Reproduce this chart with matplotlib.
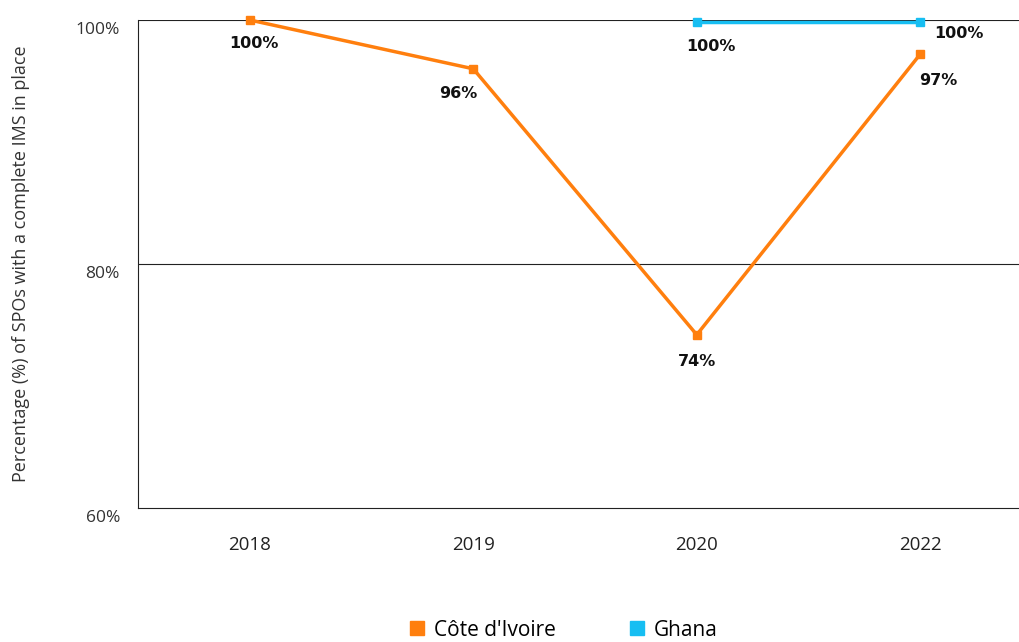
import matplotlib
matplotlib.use("Agg")
import matplotlib.pyplot as plt
import matplotlib.transforms as mtransforms
from matplotlib.lines import Line2D

years = ["2018", "2019", "2020", "2022"]
civ_values = [100.0, 96.0, 74.2, 97.2]
ghana_years = ["2020", "2022"]
ghana_values = [99.8, 99.8]
civ_labels = ["100%", "96%", "74%", "97%"]
ghana_labels = ["100%", "100%"]
y_ticks = [60, 80, 100]
y_ticklabels = ["60%", "80%", "100%"]

ORANGE = "#FF7F0E"
CYAN = "#17BEF2"

plt.rcParams['font.family'] = ['Open Sans', 'DejaVu Sans']

fig = plt.figure(figsize=(10.19, 6.42), dpi=100)
ax = fig.add_axes([138/1019, 1-508/642, (1032-138)/1019, (508-20)/642])

xpos = {y: i for i, y in enumerate(years)}
cx = [xpos[y] for y in years]
gx = [xpos[y] for y in ghana_years]

ax.plot(cx, civ_values, color=ORANGE, lw=2.5, marker='s', ms=6, zorder=3, clip_on=False)
ax.plot(gx, ghana_values, color=CYAN, lw=2.5, marker='s', ms=6, zorder=3, clip_on=False)

ax.set_xlim(-0.5, 3.5)
ax.set_ylim(60, 100)
ax.set_xticks(range(len(years)))
ax.set_xticklabels(years, fontsize=13.5, color="#222222")
ax.set_yticks(y_ticks)
ax.set_yticklabels(y_ticklabels, fontsize=12.5, color="#333333")
ax.tick_params(axis='x', length=0, pad=20)
ax.tick_params(axis='y', length=0, pad=13)
off = mtransforms.ScaledTranslation(0, -8/100, fig.dpi_scale_trans)
for lab in ax.get_yticklabels():
    lab.set_transform(lab.get_transform() + off)

ax.axhline(80, color="#222222", lw=0.8, zorder=1)
ax.axhline(100, color="#222222", lw=0.8, zorder=1)
for s in ["top", "right"]:
    ax.spines[s].set_visible(False)
for s in ["left", "bottom"]:
    ax.spines[s].set_color("#222222")
    ax.spines[s].set_linewidth(0.8)

ax.set_ylabel("Percentage (%) of SPOs with a complete IMS in place", fontsize=13,
              color="#333333", labelpad=33)

bold_font = ['DejaVu Sans']
civ_offsets = [(3, -17), (-11, -18), (0, -19), (13, -19)]
for x, v, lab, (dx, dy) in zip(cx, civ_values, civ_labels, civ_offsets):
    ax.annotate(lab, (x, v), xytext=(dx, dy), textcoords='offset points',
                ha='center', va='center', fontsize=11.5, fontweight='bold', color="#111111",
                family=bold_font)
ghana_offsets = [(10, -17), (28, -8)]
for x, v, lab, (dx, dy) in zip(gx, ghana_values, ghana_labels, ghana_offsets):
    ax.annotate(lab, (x, v), xytext=(dx, dy), textcoords='offset points',
                ha='center', va='center', fontsize=11.5, fontweight='bold', color="#111111",
                family=bold_font)

handles = [Line2D([], [], marker='s', ls='none', color=ORANGE, ms=10),
           Line2D([], [], marker='s', ls='none', color=CYAN, ms=10)]
fig.legend(handles, ["Côte d'Ivoire", "Ghana"], loc='center', bbox_to_anchor=(562/1019, 1-630/642),
           ncol=2, frameon=False, fontsize=15, handletextpad=0.3, columnspacing=3.4,
           handlelength=1.0, borderpad=0.2)

fig.savefig("out.png", dpi=100)
